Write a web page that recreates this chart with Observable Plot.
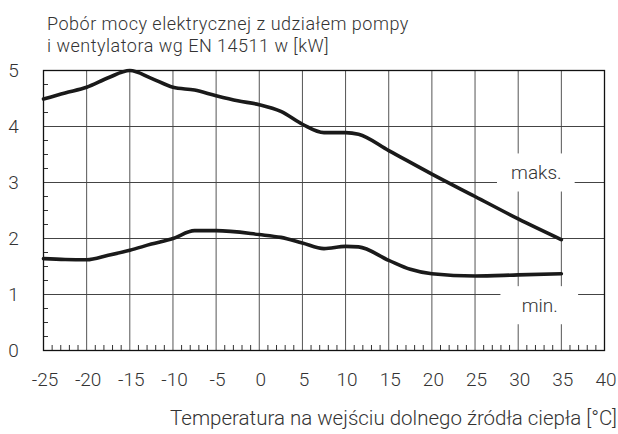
<!DOCTYPE html>
<html>
<head>
<meta charset="utf-8">
<script src="https://cdn.jsdelivr.net/npm/d3@7"></script>
<script src="https://cdn.jsdelivr.net/npm/@observablehq/plot@0.6"></script>
<style>
  body { margin: 0; background: #fff; }
  #wrap { width: 618px; font-family: Roboto, "Noto Sans", sans-serif; color: #333; }
  #title { height: 60px; box-sizing: border-box; padding: 13px 0 0 47px; font-size: 18px; font-weight: 300; line-height: 22px; letter-spacing: 0.5px; white-space: nowrap; }
</style>
</head>
<body>
<div id="wrap">
  <div id="title">Pobór mocy elektrycznej z udziałem pompy<br>i wentylatora wg EN 14511 w [kW]</div>
  <div id="chart"></div>
</div>
<script>
// ---- data ----
const tempsMax = [-25, -22.5, -20, -17.5, -15, -12.5, -10, -7.5, -5, -2.5, 0, 2.5, 5, 7.5, 10, 11.5, 15, 20, 25, 30, 35];
const powerMax = [4.49, 4.60, 4.70, 4.87, 5.0, 4.86, 4.70, 4.65, 4.55, 4.46, 4.39, 4.27, 4.04, 3.89, 3.89, 3.86, 3.57, 3.15, 2.75, 2.35, 1.98];
const tempsMin = [-25, -22.5, -20, -17.5, -15, -12.5, -10, -7.5, -5, 0, 2.5, 5, 7.5, 10, 11.5, 15, 17.5, 20, 25, 30, 35];
const powerMin = [1.64, 1.625, 1.62, 1.70, 1.79, 1.90, 2.0, 2.14, 2.14, 2.07, 2.02, 1.92, 1.82, 1.86, 1.85, 1.61, 1.45, 1.37, 1.33, 1.35, 1.37];
const xTicks = d3.range(-25, 41, 5);
const yTicks = [0, 1, 2, 3, 4, 5];
const xMinor = d3.range(-25, 41, 1).filter(d => d % 5 !== 0);
const yMinor = d3.range(0, 5.01, 0.25).filter(d => d % 1 !== 0);
const seriesLabels = [
  {text: "maks.", x: 32.1, y: 3.17},
  {text: "min.", x: 32.5, y: 0.80}
];
const xLabel = "Temperatura na wejściu dolnego źródła ciepła [°C]";

// ---- layout ----
const W = 618, H = 374;
const mL = 43, mR = 14, mT = 10, mB = 84;
const xDom = [-25, 40], yDom = [0, 5];
const pxX = (W - mL - mR) / (xDom[1] - xDom[0]);
const pxY = (H - mT - mB) / (yDom[1] - yDom[0]);
const tickLenX = 5 / pxX, tickLenY = 5 / pxY;

const maxData = tempsMax.map((t, i) => ({t, p: powerMax[i]}));
const minData = tempsMin.map((t, i) => ({t, p: powerMin[i]}));

const font = "Roboto, 'Noto Sans', sans-serif";
const chart = Plot.plot({
  width: W, height: H,
  marginLeft: mL, marginRight: mR, marginTop: mT, marginBottom: mB,
  style: {fontFamily: font, background: "#fff", overflow: "visible"},
  x: {domain: xDom, axis: null},
  y: {domain: yDom, axis: null},
  marks: [
    Plot.ruleX(xTicks.slice(1, -1), {x: d => d, y1: 0, y2: 5, stroke: "#555", strokeWidth: 1}),
    Plot.ruleY(yTicks.slice(1, -1), {y: d => d, x1: -25, x2: 40, stroke: "#444", strokeWidth: 1}),
    Plot.rect(seriesLabels, {x1: d => d.x - 4.5, x2: d => d.x + 4.5, y1: d => d.y - 0.34, y2: d => d.y + 0.34, fill: "#fff"}),
    Plot.ruleX(xMinor, {x: d => d, y1: 0, y2: tickLenY, stroke: "#333", strokeWidth: 1}),
    Plot.ruleY(yMinor, {y: d => d, x1: -25, x2: -25 + tickLenX, stroke: "#333", strokeWidth: 1}),
    Plot.frame({stroke: "#111", strokeWidth: 1.3}),
    Plot.line(maxData, {x: "t", y: "p", curve: "monotone-x", stroke: "#1a1a1a", strokeWidth: 3.6}),
    Plot.line(minData, {x: "t", y: "p", curve: "monotone-x", stroke: "#1a1a1a", strokeWidth: 3.6}),
    Plot.text(seriesLabels, {x: "x", y: "y", text: "text", fontSize: 19, fontWeight: 300, fill: "#333", textAnchor: "middle", lineAnchor: "middle", letterSpacing: 0.8}),
    Plot.text(xTicks, {x: d => d, y: 0, text: d => String(d), dy: 29, dx: 1.5, fontSize: 19, fontWeight: 300, fill: "#333", textAnchor: "middle", lineAnchor: "middle", letterSpacing: 3}),
    Plot.text(yTicks, {x: -25, y: d => d, text: d => String(d), dx: -30, fontSize: 19, fontWeight: 300, fill: "#333", textAnchor: "middle", lineAnchor: "middle"}),
    Plot.text([xLabel], {frameAnchor: "bottom-right", text: d => d, dy: 68, dx: 12.5, fontSize: 20.5, fontWeight: 300, fill: "#333", textAnchor: "end", lineAnchor: "middle", letterSpacing: 2.6})
  ]
});
document.getElementById("chart").appendChild(chart);
</script>
</body>
</html>
